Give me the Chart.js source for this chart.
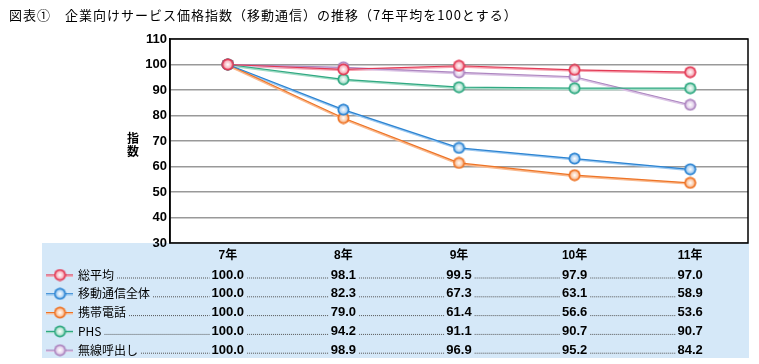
<!DOCTYPE html>
<html>
<head>
<meta charset="utf-8">
<script src="https://cdn.jsdelivr.net/npm/chart.js@4.4.1/dist/chart.umd.min.js"></script>
<style>
  html, body { margin: 0; padding: 0; background: #fff; }
</style>
</head>
<body>
<canvas id="priceChart" width="759" height="364"></canvas>
<script>
// data
const chartTitle = '図表①　企業向けサービス価格指数（移動通信）の推移（7年平均を100とする）';
const years = ['7年', '8年', '9年', '10年', '11年'];
const sohei = [100.0, 98.1, 99.5, 97.9, 97.0];        // 総平均
const idoTsushin = [100.0, 82.3, 67.3, 63.1, 58.9];   // 移動通信全体
const keitai = [100.0, 79.0, 61.4, 56.6, 53.6];       // 携帯電話
const phs = [100.0, 94.2, 91.1, 90.7, 90.7];          // PHS
const musen = [100.0, 98.9, 96.9, 95.2, 84.2];        // 無線呼出し
const seriesNames = ['総平均', '移動通信全体', '携帯電話', 'PHS', '無線呼出し'];
const seriesValues = [sohei, idoTsushin, keitai, phs, musen];
const yMin = 30, yMax = 110, yStep = 10;

const darkColors = ['#e23a55', '#2c84d2', '#ee7426', '#30a982', '#ad86c0'];
const lightColors = ['#f6a3b0', '#9cc8f0', '#f9b98e', '#a2dcc6', '#dcc6e6'];

const jpFont = "'Noto Sans CJK JP', 'Noto Sans', sans-serif";
const numFont = "'Liberation Sans', Arial, 'Noto Sans CJK JP', sans-serif";

// little round marker with a light centre
function makeMarker(dark, light) {
  const c = document.createElement('canvas');
  c.width = 13; c.height = 13;
  const g = c.getContext('2d');
  g.beginPath(); g.arc(6.5, 6.5, 6, 0, Math.PI * 2);
  g.fillStyle = dark; g.fill();
  const rg = g.createRadialGradient(6.5, 6.5, 0, 6.5, 6.5, 4.5);
  rg.addColorStop(0, '#ffffff');
  rg.addColorStop(1, light);
  g.beginPath(); g.arc(6.5, 6.5, 4.3, 0, Math.PI * 2);
  g.fillStyle = rg; g.fill();
  return c;
}
const markers = darkColors.map((c, i) => makeMarker(c, lightColors[i]));

const datasets = seriesNames.map((name, i) => ({
  label: name,
  data: seriesValues[i],
  borderColor: darkColors[i],
  borderWidth: 1.2,
  pointStyle: markers[i],
  pointRadius: 6,
  tension: 0
}));

// background band, soft under-line, frame, axis title and the value table
const tablePlugin = {
  id: 'tablePlugin',
  beforeDraw(chart) {
    const ctx = chart.ctx;
    const a = chart.chartArea;
    ctx.save();
    ctx.fillStyle = '#d5e8f8';
    ctx.fillRect(42, a.bottom, a.right - 42 + 1, 115);
    ctx.restore();
  },
  beforeDatasetsDraw(chart) {
    const ctx = chart.ctx;
    ctx.save();
    chart.data.datasets.forEach((ds, i) => {
      const pts = chart.getDatasetMeta(i).data;
      ctx.beginPath();
      pts.forEach((p, k) => k ? ctx.lineTo(p.x, p.y + 1) : ctx.moveTo(p.x, p.y + 1));
      ctx.strokeStyle = lightColors[i];
      ctx.lineWidth = 2;
      ctx.stroke();
    });
    ctx.restore();
  },
  afterDraw(chart) {
    const ctx = chart.ctx;
    const a = chart.chartArea;
    const xs = chart.scales.x;
    ctx.save();

    // plot frame
    ctx.strokeStyle = '#000';
    ctx.lineWidth = 1.5;
    ctx.strokeRect(a.left, a.top, a.right - a.left, a.bottom - a.top);

    // chart title
    ctx.fillStyle = '#000';
    ctx.font = '13px ' + jpFont;
    ctx.letterSpacing = '1px';
    ctx.textAlign = 'left';
    ctx.textBaseline = 'middle';
    ctx.fillText(chartTitle, 9, 15);
    ctx.letterSpacing = '0px';

    // vertical y axis title
    ctx.font = 'bold 12px ' + jpFont;
    ctx.textAlign = 'center';
    ctx.fillText('指', 133, 138);
    ctx.fillText('数', 133, 151);

    // table rows
    seriesNames.forEach((name, i) => {
      const y = a.bottom + 32 + i * 18.8;
      // legend marker
      ctx.strokeStyle = darkColors[i];
      ctx.lineWidth = 1.2;
      ctx.beginPath(); ctx.moveTo(46, y); ctx.lineTo(73, y); ctx.stroke();
      ctx.strokeStyle = lightColors[i];
      ctx.beginPath(); ctx.moveTo(46, y + 1.2); ctx.lineTo(73, y + 1.2); ctx.stroke();
      ctx.drawImage(markers[i], 60 - 6.5, y - 6.5);

      ctx.fillStyle = '#000';
      ctx.font = '12px ' + jpFont;
      ctx.textAlign = 'left';
      ctx.textBaseline = 'middle';
      ctx.fillText(name, 78, y);
      let prevEnd = 78 + ctx.measureText(name).width + 3;

      ctx.font = 'bold 13px ' + numFont;
      ctx.textAlign = 'center';
      seriesValues[i].forEach((v, j) => {
        const cx = xs.getPixelForValue(j);
        const txt = v.toFixed(1);
        const w = ctx.measureText(txt).width;
        // dotted leader up to this value
        ctx.save();
        ctx.strokeStyle = '#555';
        ctx.lineWidth = 1;
        ctx.setLineDash([1, 1]);
        ctx.beginPath();
        ctx.moveTo(prevEnd, y + 3);
        ctx.lineTo(cx - w / 2 - 2, y + 3);
        ctx.stroke();
        ctx.restore();
        ctx.fillText(txt, cx, y);
        prevEnd = cx + w / 2 + 3;
      });
    });
    ctx.restore();
  }
};

new Chart(document.getElementById('priceChart').getContext('2d'), {
  type: 'line',
  data: { labels: years, datasets },
  plugins: [tablePlugin],
  options: {
    responsive: false,
    devicePixelRatio: 1,
    animation: false,
    layout: { padding: { top: 39, right: 11, bottom: 0, left: 0 } },
    plugins: {
      legend: { display: false },
      title: { display: false },
      tooltip: { enabled: false }
    },
    scales: {
      x: {
        offset: true,
        grid: { display: false, drawTicks: false },
        border: { display: false },
        ticks: {
          color: '#000',
          padding: 5,
          font: { family: numFont, size: 12, weight: 'bold' }
        },
        afterFit: s => { s.height = 121; }
      },
      y: {
        min: yMin,
        max: yMax,
        grid: { color: '#999', lineWidth: 1.5, drawTicks: false },
        border: { display: true, color: '#000', width: 1.5 },
        ticks: {
          stepSize: yStep,
          color: '#000',
          padding: 3,
          font: { family: numFont, size: 13, weight: 'bold' }
        },
        afterFit: s => { s.width = 170; }
      }
    }
  }
});
</script>
</body>
</html>
